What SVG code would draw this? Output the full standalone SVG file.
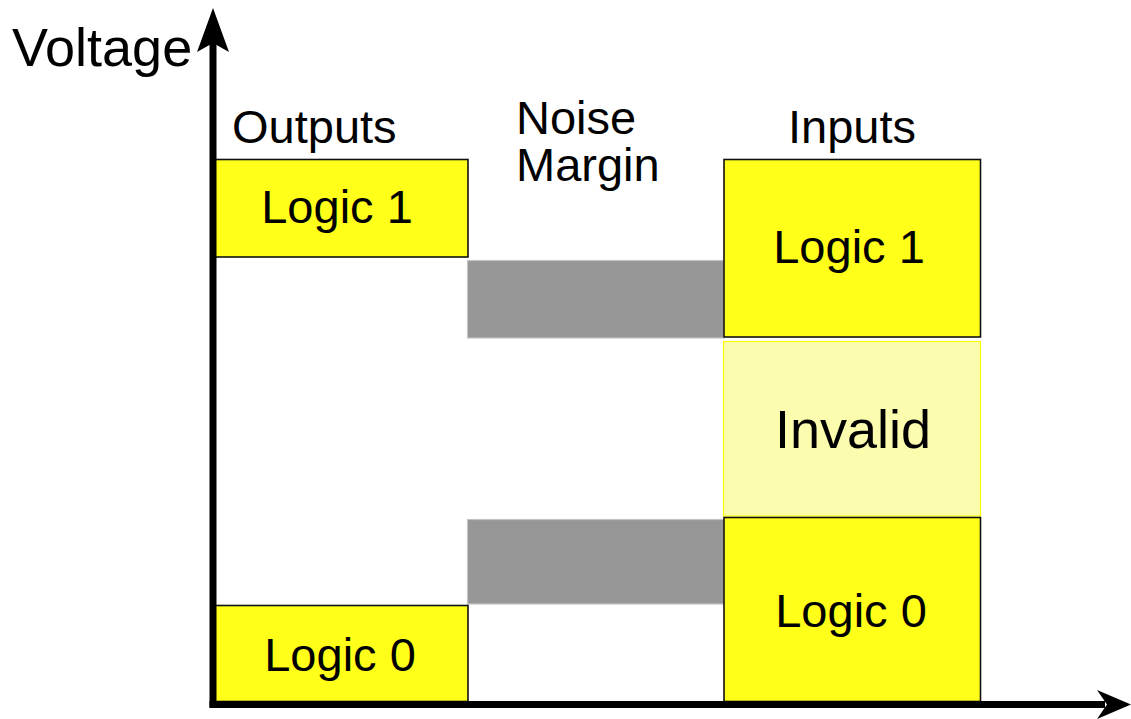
<svg xmlns="http://www.w3.org/2000/svg" width="1131" height="719" viewBox="0 0 1131 719">
  <style>
    text { font-family: "Liberation Sans", Arial, sans-serif; fill: #000; }
    .lbl { font-size: 47px; }
    .big { font-size: 54px; }
    .logic { fill: #ffff19; stroke: #111; stroke-width: 1.6; }
    .invalid { fill: #fcfcae; stroke: #ffff00; stroke-width: 1.2; }
    .margin { fill: #969696; stroke: #c4c4c4; stroke-width: 1.2; }
    .axis { stroke: #000; stroke-width: 7; fill: none; }
    .head { fill: #000; }
  </style>

  <rect width="1131" height="719" fill="#fff"/>

  <!-- noise margin bands -->
  <g id="margin-high"><rect class="margin" x="467.5" y="260.5" width="256.5" height="77.5"/></g>
  <g id="margin-low"><rect class="margin" x="467.5" y="519.5" width="256.5" height="84.5"/></g>

  <!-- output levels -->
  <g id="out-logic1">
    <rect class="logic" x="213" y="159.5" width="255" height="97.5"/>
    <text class="lbl" x="337" y="223" text-anchor="middle">Logic 1</text>
  </g>
  <g id="out-logic0">
    <rect class="logic" x="213" y="605.5" width="255" height="96"/>
    <text class="lbl" x="340" y="671" text-anchor="middle">Logic 0</text>
  </g>

  <!-- input levels -->
  <g id="in-logic1">
    <rect class="logic" x="724" y="159.5" width="256.5" height="177.5"/>
    <text class="lbl" x="849" y="263" text-anchor="middle">Logic 1</text>
  </g>
  <g id="in-invalid">
    <rect class="invalid" x="723.5" y="341.5" width="257" height="174.5"/>
    <text class="big" x="853" y="448" text-anchor="middle">Invalid</text>
  </g>
  <g id="in-logic0">
    <rect class="logic" x="724" y="517.5" width="256.5" height="184"/>
    <text class="lbl" x="851" y="627" text-anchor="middle">Logic 0</text>
  </g>

  <!-- column headings -->
  <g id="headings">
    <text class="lbl" x="232" y="143">Outputs</text>
    <text class="lbl" x="516" y="134">Noise</text>
    <text class="lbl" x="516" y="181">Margin</text>
    <text class="lbl" x="852" y="143" text-anchor="middle">Inputs</text>
    <text class="big" x="12" y="66">Voltage</text>
  </g>

  <!-- axes -->
  <g id="connectors">
    <line class="axis" x1="213" y1="40" x2="213" y2="707.5"/>
    <line class="axis" x1="209.5" y1="704.5" x2="1105" y2="704.5"/>
    <path class="head" d="M213,8 L229,52 L213,43 L197,52 Z"/>
    <path class="head" d="M1131,704.5 L1097,719 L1107,704.5 L1097,690 Z"/>
  </g>
</svg>
